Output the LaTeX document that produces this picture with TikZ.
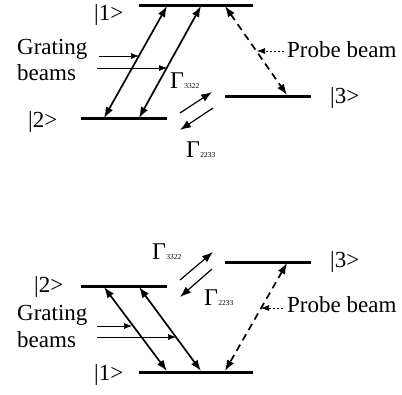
\documentclass[tikz,border=0pt]{standalone}
\usepackage{fontspec}
\setmainfont{Liberation Serif}
\usetikzlibrary{arrows.meta}

\newcommand{\relaxrate}[1]{{\fontsize{24}{26}\selectfont Γ}\kern0.3pt{\fontsize{7.5}{8}\selectfont #1}}

\begin{document}
\begin{tikzpicture}[x=1pt, y=-1pt,
  every node/.style={inner sep=0pt, anchor=base west, font=\fontsize{23}{27}\selectfont},
  lvl/.style={line width=3pt},
  pump/.style={line width=1.7pt, {Latex[length=11pt,width=8pt]}-{Latex[length=11pt,width=8pt]}},
  probe/.style={pump, dash pattern=on 7pt off 5pt},
  beam/.style={line width=0.6pt, -{Latex[length=8pt,width=6pt]}},
  pbeam/.style={beam, dash pattern=on 2.5pt off 1.5pt},
  relax/.style={line width=1.2pt, -{Latex[length=11pt,width=8pt]}}
]
\useasboundingbox (0,0) rectangle (402,394);

% --- upper scheme: levels ---
\coordinate (u1l) at (139,5);   \coordinate (u1r) at (253,5);
\coordinate (u2l) at (81,118);  \coordinate (u2r) at (167,118);
\coordinate (u3l) at (225,96);  \coordinate (u3r) at (311,96);
\draw[lvl] (u1l) -- (u1r);
\draw[lvl] (u2l) -- (u2r);
\draw[lvl] (u3l) -- (u3r);

\node (uk1) at (94,20) {|1>};
\node (uk2) at (28,127) {|2>};
\node (uk3) at (330,103) {|3>};

% pump and probe transitions
\coordinate (ua) at (104,118);  \coordinate (ub) at (167,6);
\coordinate (uc) at (139,118);  \coordinate (ud) at (201,6);
\coordinate (ue) at (225,6);    \coordinate (uf) at (287,95);
\draw[pump] (ua) -- (ub);
\draw[pump] (uc) -- (ud);
\draw[probe] (ue) -- (uf);

% grating beams
\node (ugr) at (17,54) {Grating};
\node (ubm) at (17,80) {beams};
\coordinate (ug1) at (99,56);  \coordinate (uh1) at (139,56);
\coordinate (ug2) at (97,68);  \coordinate (uh2) at (167,68);
\draw[beam] (ug1) -- (uh1);
\draw[beam] (ug2) -- (uh2);

% probe beam
\node (upb) at (287,57) {Probe beam};
\coordinate (up1) at (284,51); \coordinate (up2) at (257,51);
\draw[pbeam] (up1) -- (up2);

% relaxation between |2> and |3>
\coordinate (ur1) at (180,113); \coordinate (ur2) at (212,92);
\coordinate (ur3) at (213,108); \coordinate (ur4) at (180,130);
\draw[relax] (ur1) -- (ur2);
\draw[relax] (ur3) -- (ur4);
\node (uga) at (170,88) {\relaxrate{3322}};
\node (ugb) at (186,157) {\relaxrate{2233}};

% --- lower scheme: levels ---
\coordinate (l1l) at (139,372); \coordinate (l1r) at (253,372);
\coordinate (l2l) at (81,286);  \coordinate (l2r) at (167,286);
\coordinate (l3l) at (225,262); \coordinate (l3r) at (311,262);
\draw[lvl] (l1l) -- (l1r);
\draw[lvl] (l2l) -- (l2r);
\draw[lvl] (l3l) -- (l3r);

\node (lk1) at (94,380) {|1>};
\node (lk2) at (34,292) {|2>};
\node (lk3) at (330,267) {|3>};

% pump and probe transitions
\coordinate (la) at (104,287);  \coordinate (lb) at (167,371);
\coordinate (lc) at (139,287);  \coordinate (ld) at (201,371);
\coordinate (le) at (287,263);  \coordinate (lf) at (225,371);
\draw[pump] (la) -- (lb);
\draw[pump] (lc) -- (ld);
\draw[probe] (le) -- (lf);

% grating beams
\node (lgr) at (17,320) {Grating};
\node (lbm) at (17,347) {beams};
\coordinate (lg1) at (97,326);  \coordinate (lh1) at (132,326);
\coordinate (lg2) at (97,337);  \coordinate (lh2) at (176,337);
\draw[beam] (lg1) -- (lh1);
\draw[beam] (lg2) -- (lh2);

% probe beam
\node (lpb) at (287,312) {Probe beam};
\coordinate (lp1) at (283,308); \coordinate (lp2) at (261,308);
\draw[pbeam] (lp1) -- (lp2);

% relaxation between |2> and |3>
\coordinate (lr1) at (180,280); \coordinate (lr2) at (213,252);
\coordinate (lr3) at (212,269); \coordinate (lr4) at (180,297);
\draw[relax] (lr1) -- (lr2);
\draw[relax] (lr3) -- (lr4);
\node (lga) at (152,259) {\relaxrate{3322}};
\node (lgb) at (204,305) {\relaxrate{2233}};

\end{tikzpicture}
\end{document}
